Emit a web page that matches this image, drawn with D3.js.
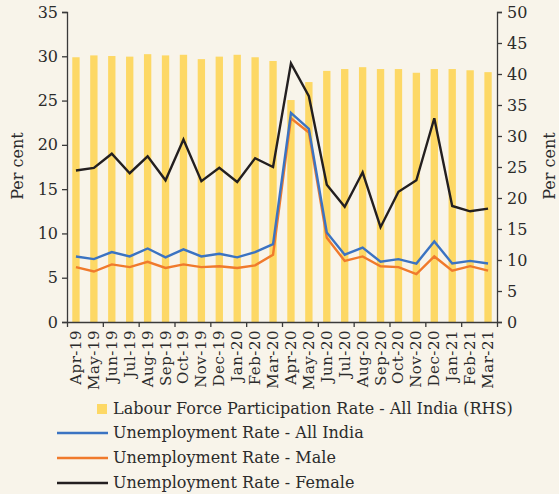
<!DOCTYPE html>
<html>
<head>
<meta charset="utf-8">
<script src="https://cdn.jsdelivr.net/npm/d3@7"></script>
<style>
  body { margin: 0; background: #f8f4ea; }
  svg text { font-family: "DejaVu Serif", serif; fill: #2b2b2b; }
</style>
</head>
<body>
<div id="chart"></div>
<script>
// months on x axis
var months = ["Apr-19", "May-19", "Jun-19", "Jul-19", "Aug-19", "Sep-19", "Oct-19", "Nov-19",
  "Dec-19", "Jan-20", "Feb-20", "Mar-20", "Apr-20", "May-20", "Jun-20", "Jul-20", "Aug-20",
  "Sep-20", "Oct-20", "Nov-20", "Dec-20", "Jan-21", "Feb-21", "Mar-21"];

// labour force participation rate (RHS)
var lfpr = [42.7, 43.0, 42.9, 42.8, 43.2, 43.0, 43.1, 42.4, 42.8, 43.1, 42.7, 42.1,
  35.8, 38.7, 40.5, 40.8, 41.1, 40.8, 40.8, 40.2, 40.8, 40.8, 40.6, 40.3];

// unemployment rates (LHS)
var urAll = [7.4, 7.1, 7.9, 7.4, 8.3, 7.3, 8.2, 7.4, 7.7, 7.3, 7.9, 8.8,
  23.6, 21.8, 10.1, 7.6, 8.4, 6.8, 7.1, 6.6, 9.1, 6.6, 6.9, 6.6];
var urMale = [6.2, 5.7, 6.5, 6.2, 6.8, 6.1, 6.5, 6.2, 6.3, 6.1, 6.4, 7.6,
  23.0, 21.4, 9.5, 6.9, 7.4, 6.3, 6.2, 5.4, 7.4, 5.8, 6.3, 5.8];
var urFemale = [17.1, 17.4, 19.0, 16.8, 18.7, 16.0, 20.6, 15.9, 17.4, 15.8, 18.5, 17.5,
  29.2, 25.5, 15.5, 13.0, 16.9, 10.7, 14.7, 16.0, 23.0, 13.1, 12.5, 12.8];

var leftTicks = [0, 5, 10, 15, 20, 25, 30, 35];
var rightTicks = [0, 5, 10, 15, 20, 25, 30, 35, 40, 45, 50];

var width = 559, height = 494;
var margin = { top: 12, right: 62, bottom: 172, left: 67 };

var svg = d3.select("#chart").append("svg")
  .attr("width", width)
  .attr("height", height);

svg.append("rect").attr("width", width).attr("height", height).attr("fill", "#f8f4ea");

var x = d3.scaleBand().domain(months)
  .range([margin.left, width - margin.right])
  .paddingInner(0.59).paddingOuter(0.295);
var xIdx = d3.scaleLinear().domain([0, months.length])
  .range([margin.left, width - margin.right]);
var yL = d3.scaleLinear().domain([0, 35]).range([height - margin.bottom, margin.top]);
var yR = d3.scaleLinear().domain([0, 50]).range([height - margin.bottom, margin.top]);

// bars (RHS)
svg.selectAll(".bar")
  .data(lfpr)
  .enter().append("rect")
  .attr("class", "bar")
  .attr("x", (d, i) => x(months[i]))
  .attr("y", d => yR(d))
  .attr("width", x.bandwidth())
  .attr("height", d => yR(0) - yR(d))
  .attr("fill", "#fdd865");

// lines
var series = [
  { name: "Unemployment Rate - Female", values: urFemale, color: "#231f20" },
  { name: "Unemployment Rate - Male", values: urMale, color: "#f07a2c" },
  { name: "Unemployment Rate - All India", values: urAll, color: "#3b73c2" }
];

var line = d3.line()
  .x((d, i) => x(months[i]) + x.bandwidth() / 2)
  .y(d => yL(d));

series.forEach(function(s) {
  svg.append("path")
    .datum(s.values)
    .attr("d", line)
    .attr("fill", "none")
    .attr("stroke", s.color)
    .attr("stroke-width", 2.4)
    .attr("stroke-linejoin", "miter");
});

// axes
var axisColor = "#3a3a3a";
var gL = svg.append("g")
  .attr("transform", "translate(" + margin.left + ",0)")
  .call(d3.axisLeft(yL).tickValues(leftTicks).tickSize(5).tickPadding(4));
var gR = svg.append("g")
  .attr("transform", "translate(" + (width - margin.right) + ",0)")
  .call(d3.axisRight(yR).tickValues(rightTicks).tickSize(5).tickPadding(5));
[gL, gR].forEach(function(g) {
  g.select(".domain").attr("stroke", axisColor).attr("stroke-width", 1.3);
  g.selectAll(".tick line").attr("stroke", axisColor).attr("stroke-width", 1.3);
  g.selectAll(".tick text")
    .style("font-family", "DejaVu Serif, serif")
    .style("font-size", "16px")
    .attr("fill", "#2b2b2b");
});

// bottom axis: ticks every two months
var gB = svg.append("g")
  .attr("transform", "translate(0," + (height - margin.bottom) + ")")
  .call(d3.axisBottom(xIdx).tickValues(d3.range(0, months.length + 1, 2))
    .tickSize(5).tickSizeOuter(0).tickFormat(""));
gB.select(".domain").attr("stroke", axisColor).attr("stroke-width", 1.3);
gB.selectAll(".tick line").attr("stroke", axisColor).attr("stroke-width", 1.3);

// month labels
svg.selectAll(".mlabel")
  .data(months)
  .enter().append("text")
  .attr("class", "mlabel")
  .attr("transform", d => "translate(" + (x(d) + x.bandwidth() / 2 + 5) + "," + (height - margin.bottom + 8) + ") rotate(-90)")
  .attr("text-anchor", "end")
  .style("font-size", "15px")
  .style("letter-spacing", "0.5px")
  .text(d => d);

// axis titles
svg.append("text")
  .attr("transform", "translate(23,166) rotate(-90)")
  .attr("text-anchor", "middle")
  .style("font-size", "16px")
  .text("Per cent");
svg.append("text")
  .attr("transform", "translate(555,166) rotate(-90)")
  .attr("text-anchor", "middle")
  .style("font-size", "16px")
  .text("Per cent");

// legend
var legend = svg.append("g");
legend.append("rect")
  .attr("x", 97).attr("y", 404)
  .attr("width", 10).attr("height", 10)
  .attr("fill", "#fdd865");
legend.append("text")
  .attr("x", 113).attr("y", 414)
  .style("font-size", "16px")
  .text("Labour Force Participation Rate - All India (RHS)");

var legendLines = [series[2], series[1], series[0]];
legendLines.forEach(function(s, i) {
  var yy = 433 + i * 25;
  legend.append("line")
    .attr("x1", 57).attr("x2", 108)
    .attr("y1", yy).attr("y2", yy)
    .attr("stroke", s.color)
    .attr("stroke-width", 2.4);
  legend.append("text")
    .attr("x", 113).attr("y", yy + 5)
    .style("font-size", "16px")
    .text(s.name);
});
</script>
</body>
</html>
